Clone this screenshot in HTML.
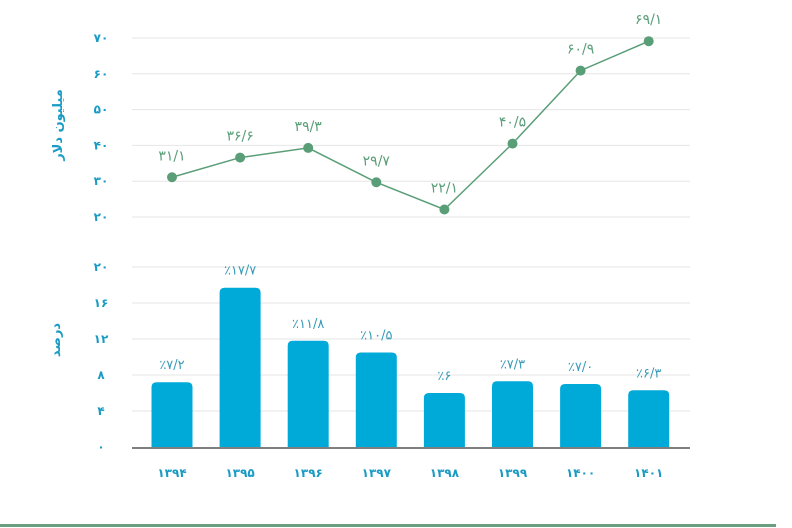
<!DOCTYPE html>
<html><head><meta charset="utf-8">
<style>
html,body{margin:0;padding:0;background:#fff;}
svg{display:block;font-family:"DejaVu Sans","Liberation Sans",sans-serif;}
</style></head>
<body>
<svg id="c" width="792" height="528" viewBox="0 0 792 528">
  <g id="grid"></g>
  <g id="axes"></g>
  <g id="line"></g>
  <g id="bars"></g>
  <text x="62" y="125" transform="rotate(-90 62 125)" text-anchor="middle" font-size="13" font-weight="bold" fill="#1a9bc4">میلیون دلار</text>
  <text x="60" y="340" transform="rotate(-90 60 340)" text-anchor="middle" font-size="13" font-weight="bold" fill="#1a9bc4">درصد</text>
  <rect x="0" y="524" width="776" height="3" fill="#6a9e80"/>
</svg>
<script>
const categories = ['۱۳۹۴','۱۳۹۵','۱۳۹۶','۱۳۹۷','۱۳۹۸','۱۳۹۹','۱۴۰۰','۱۴۰۱'];
const lineValues = [31.1, 36.6, 39.3, 29.7, 22.1, 40.5, 60.9, 69.1];
const lineLabels = ['۳۱/۱','۳۶/۶','۳۹/۳','۲۹/۷','۲۲/۱','۴۰/۵','۶۰/۹','۶۹/۱'];
const barValues = [7.2, 17.7, 11.8, 10.5, 6, 7.3, 7.0, 6.3];
const barLabels = ['٪۷/۲','٪۱۷/۷','٪۱۱/۸','٪۱۰/۵','٪۶','٪۷/۳','٪۷/۰','٪۶/۳'];
const topTicks = [20,30,40,50,60,70];
const topTickLabels = ['۲۰','۳۰','۴۰','۵۰','۶۰','۷۰'];
const botTicks = [0,4,8,12,16,20];
const botTickLabels = ['۰','۴','۸','۱۲','۱۶','۲۰'];

const NS='http://www.w3.org/2000/svg';
const X0=132, X1=690;
const xc = i => 172 + i*68.1;
const yTop = v => 217 - (v-20)*(179/50);
const yBot = v => 447 - v*9;
function mk(tag, attrs, parent, txt){
  const e=document.createElementNS(NS,tag);
  for(const k in attrs) e.setAttribute(k, attrs[k]);
  if(txt!==undefined) e.textContent=txt;
  parent.appendChild(e); return e;
}
const grid=document.getElementById('grid'), axes=document.getElementById('axes');
topTicks.forEach((t,i)=>{
  const g=mk('line',{x1:X0,x2:X1,y1:yTop(t),y2:yTop(t),stroke:'#e6e6e6','stroke-width':1},grid);
  
  
  const l=mk('text',{x:101,y:yTop(t)+4,'text-anchor':'middle','font-size':12,'font-weight':'bold',fill:'#1a9bc4'},axes,topTickLabels[i]);
  
  
});
botTicks.forEach((t,i)=>{
  if(t>0){
    const g=mk('line',{x1:X0,x2:X1,y1:yBot(t),y2:yBot(t),stroke:'#e6e6e6','stroke-width':1},grid);
    
    
  }
  const l=mk('text',{x:101,y:yBot(t)+4,'text-anchor':'middle','font-size':12,'font-weight':'bold',fill:'#1a9bc4'},axes,botTickLabels[i]);
  
  
});
const ax=mk('line',{x1:X0,x2:X1,y1:448,y2:448,stroke:'#555','stroke-width':1.5},axes);


categories.forEach((c,i)=>{
  const l=mk('text',{x:xc(i),y:477,'text-anchor':'middle','font-size':12,'font-weight':'bold',fill:'#1a9bc4'},axes,c);
  
  
});
const lg=document.getElementById('line');
const pts=lineValues.map((v,i)=>xc(i)+','+yTop(v)).join(' ');
const pl=mk('polyline',{points:pts,fill:'none',stroke:'#5a9e78','stroke-width':1.5},lg);


lineValues.forEach((v,i)=>{
  const c=mk('circle',{cx:xc(i),cy:yTop(v),r:5,fill:'#5a9e78'},lg);
  
  
  const t=mk('text',{x:xc(i),y:yTop(v)-17,'text-anchor':'middle','font-size':14,fill:'#5a9e78',direction:'ltr','unicode-bidi':'bidi-override'},lg,lineLabels[i]);
  
  
});
const bg=document.getElementById('bars');
const BW=41;
barValues.forEach((v,i)=>{
  const y=yBot(v), x=xc(i)-BW/2, r=5;
  const d=`M${x},447 L${x},${y+r} Q${x},${y} ${x+r},${y} L${x+BW-r},${y} Q${x+BW},${y} ${x+BW},${y+r} L${x+BW},447 Z`;
  const b=mk('path',{d:d,fill:'#00aad8'},bg);
  
  
  const t=mk('text',{x:xc(i),y:y-13,'text-anchor':'middle','font-size':13,fill:'#3a9bb8',direction:'ltr','unicode-bidi':'bidi-override'},bg,barLabels[i]);
  
  
});
</script>
</body></html>
